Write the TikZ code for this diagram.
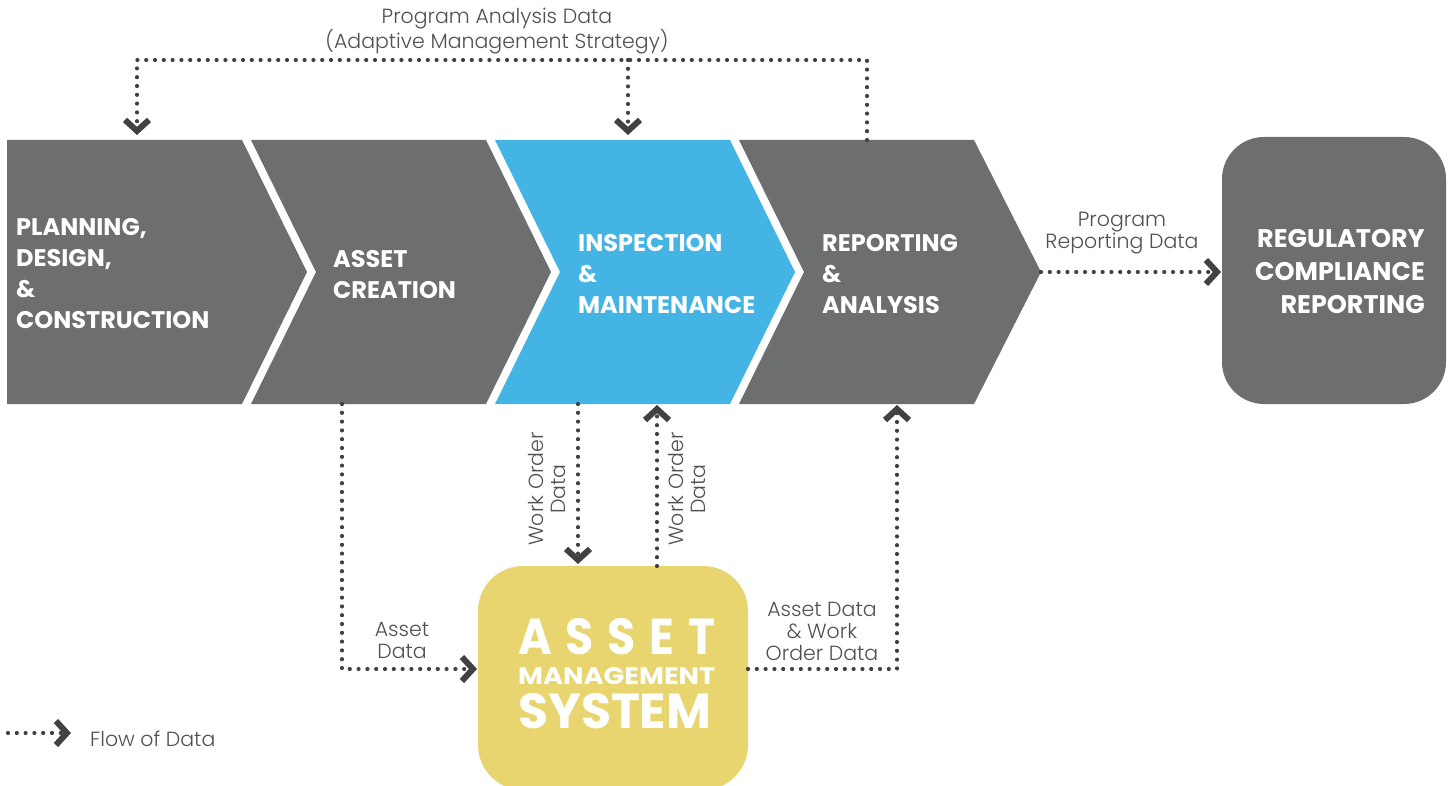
\documentclass[tikz,border=0pt]{standalone}
\usepackage{fontspec}
\setmainfont{Poppins}
\newfontfamily\lightfont{Poppins}[UprightFont={* Light}]
\usetikzlibrary{arrows.meta}
\definecolor{chevgrey}{HTML}{6D6E70}
\definecolor{chevblue}{HTML}{44B4E5}
\definecolor{amsyellow}{HTML}{E8D56F}
\definecolor{flowdark}{HTML}{414042}
\definecolor{labelgrey}{HTML}{505052}
\begin{document}
\begin{tikzpicture}[x=1pt,y=-1pt,
  flow/.style={draw=flowdark, line width=4.2pt, dash pattern=on 0pt off 8.8pt, line cap=round,
    -{Straight Barb[length=11pt,width=24pt,line width=6pt]}},
  title/.style={text=white, font=\fontsize{24}{31}\selectfont\bfseries, align=left, anchor=base west, inner sep=0pt},
  lbl/.style={text=labelgrey, font=\lightfont\fontsize{20.5}{22}\selectfont, align=center, inner sep=0pt},
  amstext/.style={text=white, font=\bfseries, anchor=base west, inner sep=0pt},
  chev/.style={fill=chevgrey, draw=none},
  rbox/.style={fill=chevgrey, draw=none, rounded corners=42pt}
]
\useasboundingbox (0,0) rectangle (1449,786);

% chevrons
\path[chev] (7,140) -- (242,140) -- (307,272) -- (242,404) -- (7,404) -- cycle;
\path[chev] (251,140) -- (486,140) -- (551,272) -- (486,404) -- (251,404) -- (316,272) -- cycle;
\path[fill=chevblue] (495,140) -- (730,140) -- (795,272) -- (730,404) -- (495,404) -- (560,272) -- cycle;
\path[chev] (739,140) -- (974,140) -- (1041,272) -- (974,404) -- (739,404) -- (804,272) -- cycle;

% boxes
\path[rbox] (1222,137) rectangle (1446,404);
\path[fill=amsyellow, rounded corners=45pt] (478,566) rectangle (748,790);

% chevron titles (anchored at the baseline of the last line)
\node[title] (plan) at (16,329) {PLANNING,\\DESIGN,\\\&\\CONSTRUCTION};
\node[title] (create) at (333,299) {ASSET\\CREATION};
\node[title] (insp) at (578,314) {INSPECTION\\\&\\MAINTENANCE};
\node[title] (rep) at (822,314) {REPORTING\\\&\\ANALYSIS};
\node[text=white, font=\fontsize{25.5}{33}\selectfont\bfseries, align=right, anchor=base east, inner sep=0pt] (reg) at (1425,314) {REGULATORY\\COMPLIANCE\\REPORTING};

% AMS text
\node[amstext] (amsA) at (518,654) {\resizebox{197pt}{36pt}{A\hspace{0.3em}S\hspace{0.3em}S\hspace{0.3em}E\hspace{0.3em}T}};
\node[amstext] (amsM) at (518,684) {\resizebox{197pt}{17pt}{MANAGEMENT}};
\node[amstext] (amsS) at (518,728) {\resizebox{193pt}{35pt}{SYSTEM}};

% connection points
\coordinate (c4top) at (867,140);
\coordinate (topR) at (867,60);
\coordinate (topL) at (137,60);
\coordinate (topM) at (628,60);
\coordinate (c1top) at (137,135);
\coordinate (c3top) at (628,135);
\coordinate (c4tip) at (1041,272);
\coordinate (regW) at (1221,272);
\coordinate (c2bot) at (342,404);
\coordinate (amsW) at (477,669);
\coordinate (c3botA) at (578,404);
\coordinate (amsNA) at (578,564);
\coordinate (amsNB) at (657,566);
\coordinate (c3botB) at (657,405);
\coordinate (amsE) at (748,669);
\coordinate (c4bot) at (897,405);
\coordinate (legA) at (8,733);
\coordinate (legB) at (71,733);

% connectors
\draw[flow] (c4top) -- (topR) -- (topL) -- (c1top);
\draw[flow] (topM) -- (c3top);
\draw[flow] (c4tip) -- (regW);
\draw[flow] (c2bot) |- (amsW);
\draw[flow] (c3botA) -- (amsNA);
\draw[flow] (amsNB) -- (c3botB);
\draw[flow] (amsE) -| (c4bot);
\draw[flow] (legA) -- (legB);

% labels
\node[lbl] (lpad) at (497,31) {Program Analysis Data\\(Adaptive Management Strategy)};
\node[lbl] (lprd) at (1122,233) {Program\\Reporting Data};
\node[lbl] (lad) at (402,641) {Asset\\Data};
\node[lbl, rotate=90] (lwo1) at (547,489) {Work Order\\Data};
\node[lbl, rotate=90] (lwo2) at (687,489) {Work Order\\Data};
\node[lbl] (ladw) at (822,631) {Asset Data\\\& Work\\Order Data};
\node[lbl, anchor=base west] (lflow) at (90,746) {Flow of Data};
\end{tikzpicture}
\end{document}
